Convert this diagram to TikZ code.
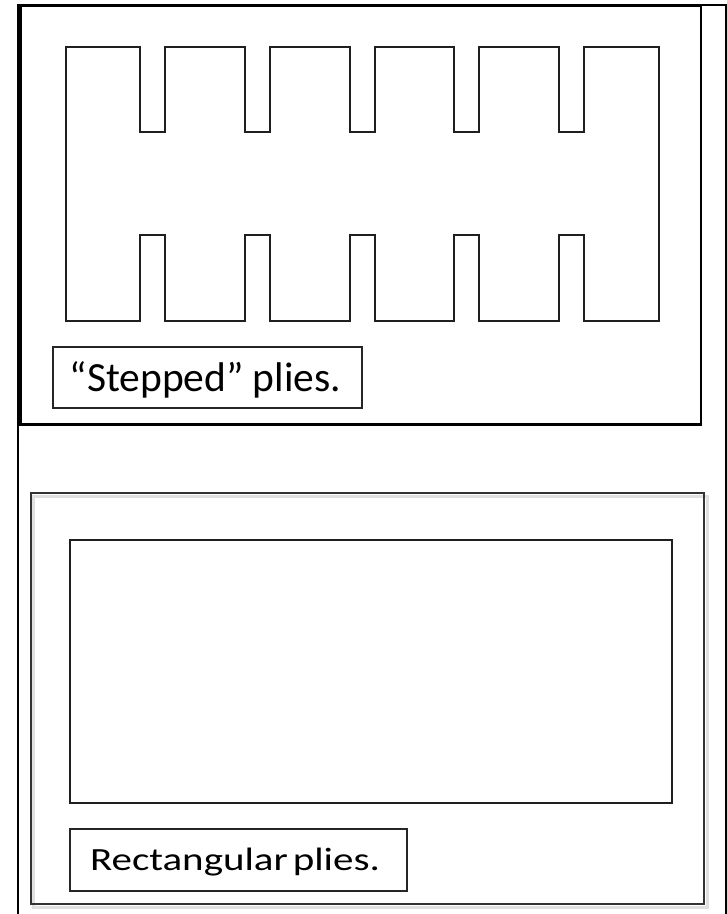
\documentclass[tikz,border=0pt]{standalone}
\usepackage{fontspec}
\setmainfont{Carlito}
\usepackage{graphicx}

\begin{document}
\begin{tikzpicture}[x=1pt,y=-1pt,
  plyline/.style={draw=black!88,line width=1.8pt,line join=miter},
  framebox/.style={draw=black,line width=2.4pt},
  labelbox/.style={draw=black!85,line width=1.8pt,inner sep=0pt}]
\useasboundingbox (0,0) rectangle (727,914);
% page frame, runs off the bottom
\draw[black,line width=2pt] (18,930) -- (18,4.5) -- (726,4.5) -- (726,930);
% top panel
\draw[framebox] (20.5,5.5) rectangle (701,424.5);
\draw[plyline] (66,47) -- (140,47) -- (140,132) -- (165,132) -- (165,47)
  -- (245,47) -- (245,132) -- (270,132) -- (270,47)
  -- (350,47) -- (350,132) -- (375,132) -- (375,47)
  -- (454,47) -- (454,132) -- (479,132) -- (479,47)
  -- (559,47) -- (559,132) -- (584,132) -- (584,47)
  -- (659,47) -- (659,321)
  -- (584,321) -- (584,235) -- (559,235) -- (559,321)
  -- (479,321) -- (479,235) -- (454,235) -- (454,321)
  -- (375,321) -- (375,235) -- (350,235) -- (350,321)
  -- (270,321) -- (270,235) -- (245,235) -- (245,321)
  -- (165,321) -- (165,235) -- (140,235) -- (140,321)
  -- (66,321) -- cycle;
\node[labelbox,minimum width=309pt,minimum height=61pt] (steppedbox) at (207.5,377.5) {};
\node[anchor=base,inner sep=0pt,font=\fontsize{41.5}{49}\selectfont] (steppedtext) at (205.5,391) {“Stepped” plies.};
% bottom panel
\draw[black!12,line width=3pt] (33,496) rectangle (707,907);
\draw[draw=black!80,line width=2pt] (30.5,493) rectangle (703.5,904);
\draw[plyline] (70,540) rectangle (672,803);
\node[labelbox,minimum width=337pt,minimum height=62pt] (rectbox) at (238.5,860) {};
\node[anchor=base,inner sep=0pt,font=\fontsize{41}{49}\selectfont] (recttext) at (235,870) {\scalebox{1}[0.79]{Rectangular\hspace{0.12em}plies.}};
\end{tikzpicture}
\end{document}
